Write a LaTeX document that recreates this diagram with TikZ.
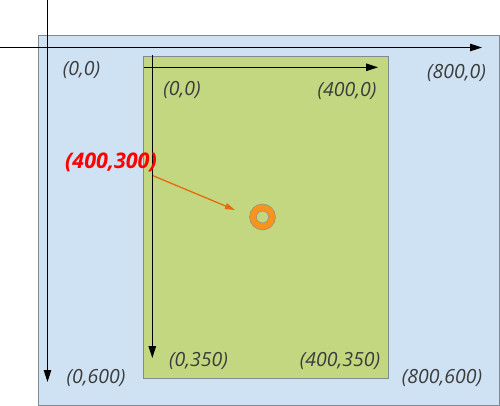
\documentclass[tikz,border=0pt]{standalone}
\usepackage{fontspec}
\setmainfont{Open Sans}
\usetikzlibrary{arrows.meta}
\definecolor{nenxanh}{RGB}{207,226,243}
\definecolor{nenla}{RGB}{195,214,128}
\definecolor{vien}{RGB}{128,138,145}
\definecolor{chu}{RGB}{60,60,60}
\definecolor{cam}{RGB}{228,108,10}
\definecolor{camtam}{RGB}{247,148,30}
\begin{document}
\begin{tikzpicture}[x=1pt,y=-1pt,font=\fontsize{19.5}{22}\selectfont\itshape]
	\tikzset{truc/.style={black,line width=1pt,-{Triangle[length=12pt,width=7.5pt]}},
		toado/.style={chu,inner sep=0pt}}
	\path[use as bounding box](0,0)rectangle(500,406);
	% hai hinh chu nhat
	\draw[vien,fill=nenxanh](38,35)rectangle(499,405);
	\draw[vien,fill=nenla](142.7,56)rectangle(387.7,377.7);
	% truc ngoai
	\coordinate(Ox) at (0,47.5);\coordinate(X) at (482,47.5);
	\coordinate(Oy) at (47.5,0);\coordinate(Y) at (47.5,382);
	\draw[truc](Ox)--(X);
	\draw[truc](Oy)--(Y);
	% truc trong
	\coordinate(ox) at (144,67.3);\coordinate(x) at (378,67.3);
	\coordinate(oy) at (152.3,55);\coordinate(y) at (152.3,358);
	\draw[truc](ox)--(x);
	\draw[truc](oy)--(y);
	% nhan toa do
	\path(81.5,70)node[toado](A){(0,0)}
		(456.5,73)node[toado](B){(800,0)}
		(96,378)node[toado](C){(0,600)}
		(442,378)node[toado](D){(800,600)}
		(182,90)node[toado](a){(0,0)}
		(347,91)node[toado](b){(400,0)}
		(198.5,361)node[toado](c){(0,350)}
		(340,361)node[toado](d){(400,350)};
	% diem
	\draw[vien,fill=camtam,even odd rule](262.5,217)circle(13)circle(6);
	\coordinate(P) at (235,210);
	\path(111,162)node[red,inner sep=0pt,font=\fontsize{21.5}{24}\selectfont\bfseries\itshape](M){(400,300)};
	\draw[cam,line width=1.3pt,-{Triangle[length=10pt,width=6pt]}](153,175.7)--(P);
\end{tikzpicture}
\end{document}
